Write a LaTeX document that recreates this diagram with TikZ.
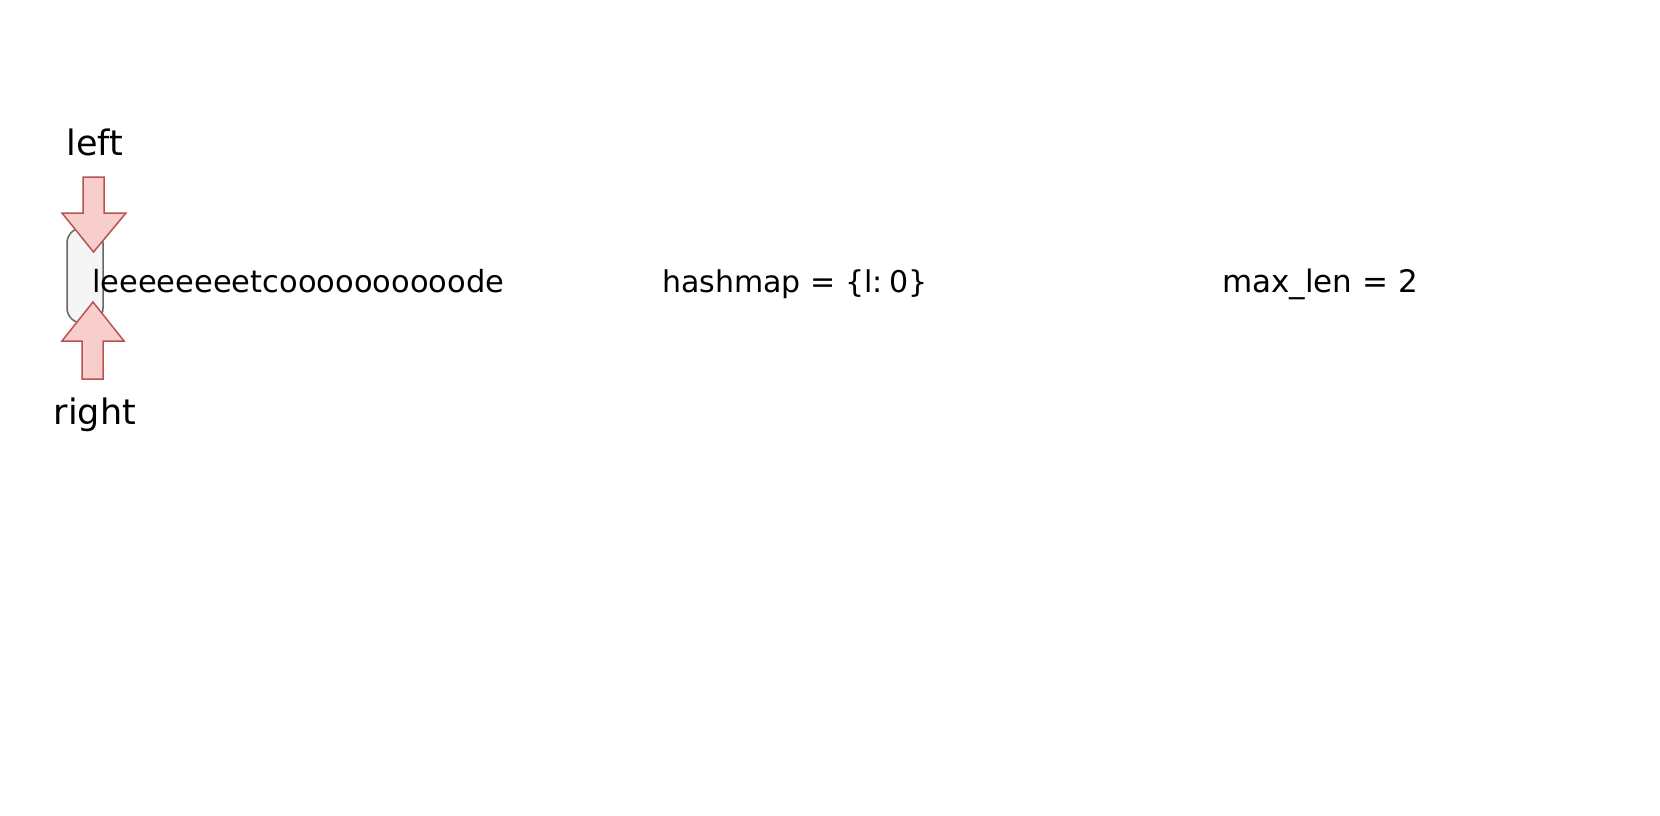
\documentclass[tikz,border=0pt]{standalone}
\usepackage{fontspec}
\setmainfont{DejaVu Sans}
\definecolor{arrfill}{HTML}{F8CECC}
\definecolor{arrline}{HTML}{B85450}
\definecolor{boxfill}{HTML}{F5F5F5}
\definecolor{boxline}{HTML}{666666}
\tikzset{
  lbl/.style={font=\fontsize{31}{36}\selectfont, inner sep=0pt, anchor=base},
  ptrlbl/.style={font=\fontsize{35}{40}\selectfont, inner sep=0pt, anchor=base},
  ptrarrow/.style={fill=arrfill, draw=arrline, line width=1.5pt, line join=miter},
  cellbox/.style={fill=boxfill, draw=boxline, line width=1.5pt, rounded corners=15pt}
}
\begin{document}
\begin{tikzpicture}[x=1pt,y=-1pt]
\useasboundingbox (0,0) rectangle (1660,816);
\fill[white] (0,0) rectangle (1660,816);
% highlighted cell
\draw[cellbox] (67,228) rectangle (103,323);
% left pointer arrow
\draw[ptrarrow] (83,177) -- (104,177) -- (104,213) -- (126,213) -- (93.5,252) -- (62,213) -- (83,213) -- cycle;
% right pointer arrow
\draw[ptrarrow] (82,379) -- (103,379) -- (103,341) -- (124,341) -- (93,302) -- (62,341) -- (82,341) -- cycle;
\node[ptrlbl] (leftlbl) at (95,155) {left};
\node[ptrlbl] (rightlbl) at (95,424) {right};
\node[lbl, anchor=base west, font=\fontsize{30.5}{36}\selectfont] (str) at (92,292) {leeeeeeeetcoooooooooode};
\node[lbl, anchor=base west, font=\fontsize{30}{36}\selectfont] (hash) at (662,292) {hashmap = \{l:\hspace{0.22em}0\}};
\node[lbl, anchor=base west] (maxlen) at (1222,292) {max\_len = 2};
\end{tikzpicture}
\end{document}
